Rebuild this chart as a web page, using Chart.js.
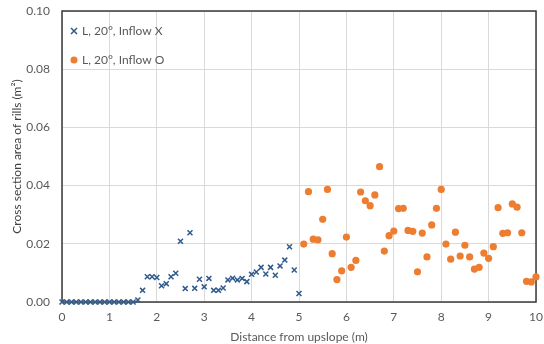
<!DOCTYPE html>
<html>
<head>
<meta charset="utf-8">
<script src="https://cdn.jsdelivr.net/npm/chart.js@4"></script>
<style>
  html, body { margin: 0; padding: 0; background: #fff; }
  #wrap { width: 544px; height: 344px; }
</style>
</head>
<body>
<div id="wrap"><canvas id="rills"></canvas></div>
<script>
const seriesNames = ['L, 20°, Inflow X', 'L, 20°, Inflow O'];

const distX = [0, 0.1, 0.2, 0.3, 0.4, 0.5, 0.6, 0.7, 0.8, 0.9, 1.0, 1.1, 1.2, 1.3, 1.4, 1.5,
  1.6, 1.7, 1.8, 1.9, 2.0, 2.1, 2.2, 2.3, 2.4, 2.5, 2.6, 2.7, 2.8, 2.9, 3.0, 3.1, 3.2, 3.3,
  3.4, 3.5, 3.6, 3.7, 3.8, 3.9, 4.0, 4.1, 4.2, 4.3, 4.4, 4.5, 4.6, 4.7, 4.8, 4.9, 5.0];
const areaX = [0, 0, 0, 0, 0, 0, 0, 0, 0, 0, 0, 0, 0, 0, 0, 0,
  0.0007, 0.0040, 0.0087, 0.0087, 0.0084, 0.0056, 0.0063, 0.0087, 0.0099, 0.0209, 0.0046,
  0.0238, 0.0047, 0.0078, 0.0052, 0.0081, 0.0040, 0.0040, 0.0048, 0.0076, 0.0082, 0.0076,
  0.0081, 0.0070, 0.0095, 0.0103, 0.0119, 0.0096, 0.0119, 0.0092, 0.0124, 0.0144, 0.0190,
  0.0110, 0.0029];

const distO = [5.1, 5.2, 5.3, 5.4, 5.5, 5.6, 5.7, 5.8, 5.9, 6.0, 6.1, 6.2, 6.3, 6.4, 6.5,
  6.6, 6.7, 6.8, 6.9, 7.0, 7.1, 7.2, 7.3, 7.4, 7.5, 7.6, 7.7, 7.8, 7.9, 8.0, 8.1, 8.2, 8.3,
  8.4, 8.5, 8.6, 8.7, 8.8, 8.9, 9.0, 9.1, 9.2, 9.3, 9.4, 9.5, 9.6, 9.7, 9.8, 9.9, 10.0];
const areaO = [0.0199, 0.0379, 0.0216, 0.0214, 0.0284, 0.0387, 0.0166, 0.0077, 0.0107,
  0.0223, 0.0119, 0.0143, 0.0378, 0.0348, 0.0331, 0.0368, 0.0465, 0.0175, 0.0228, 0.0244,
  0.0321, 0.0322, 0.0246, 0.0243, 0.0104, 0.0237, 0.0155, 0.0265, 0.0322, 0.0387, 0.0199,
  0.0147, 0.0240, 0.0158, 0.0195, 0.0155, 0.0113, 0.0119, 0.0168, 0.0150, 0.0190, 0.0324,
  0.0236, 0.0238, 0.0337, 0.0326, 0.0238, 0.0071, 0.0069, 0.0086];

const xRange = [0, 10];
const yRange = [0, 0.10];

const blue = '#2F5A8C';
const orange = '#ED7D31';
const font = 'Lato, "Open Sans", sans-serif';

function toPoints(xs, ys) {
  return xs.map((x, i) => ({ x: x, y: ys[i] }));
}

// box round the plot area, drawn under the points
const plotBox = {
  id: 'plotBox',
  beforeDatasetsDraw(chart) {
    const { ctx, chartArea: a } = chart;
    ctx.save();
    ctx.strokeStyle = '#3a3a3a';
    ctx.lineWidth = 1.5;
    ctx.strokeRect(a.left, a.top, a.right - a.left, a.bottom - a.top);
    ctx.restore();
  }
};

// legend sits inside the plot, top left
const innerLegend = {
  id: 'innerLegend',
  afterDraw(chart) {
    const { ctx, chartArea: a } = chart;
    ctx.save();
    ctx.font = '12px ' + font;
    ctx.textBaseline = 'middle';
    const rows = [a.top + 20, a.top + 49];
    const mx = a.left + 12;
    // cross
    ctx.strokeStyle = blue;
    ctx.lineWidth = 1.5;
    ctx.beginPath();
    ctx.moveTo(mx - 3, rows[0] - 3); ctx.lineTo(mx + 3, rows[0] + 3);
    ctx.moveTo(mx + 3, rows[0] - 3); ctx.lineTo(mx - 3, rows[0] + 3);
    ctx.stroke();
    // dot
    ctx.fillStyle = orange;
    ctx.beginPath();
    ctx.arc(mx, rows[1], 3.5, 0, Math.PI * 2);
    ctx.fill();
    ctx.fillStyle = '#595959';
    ctx.fillText(seriesNames[0], a.left + 20, rows[0]);
    ctx.fillText(seriesNames[1], a.left + 20, rows[1]);
    ctx.restore();
  }
};

new Chart(document.getElementById('rills'), {
  type: 'scatter',
  data: {
    datasets: [{
      label: seriesNames[0],
      data: toPoints(distX, areaX),
      pointStyle: 'crossRot',
      pointRadius: 3.5,
      pointBorderWidth: 1.5,
      borderColor: blue,
      backgroundColor: blue,
      clip: false
    }, {
      label: seriesNames[1],
      data: toPoints(distO, areaO),
      pointStyle: 'circle',
      pointRadius: 3.6,
      pointBorderWidth: 0,
      borderColor: orange,
      backgroundColor: orange,
      clip: false
    }]
  },
  options: {
    responsive: true,
    maintainAspectRatio: false,
    animation: false,
    layout: { padding: { top: 11, right: 8, left: 0, bottom: 0 } },
    plugins: {
      legend: { display: false },
      tooltip: { enabled: false }
    },
    scales: {
      x: {
        type: 'linear',
        min: xRange[0],
        max: xRange[1],
        grid: { color: '#D9D9D9', drawTicks: false },
        border: { display: false },
        ticks: {
          stepSize: 1,
          padding: 8,
          color: '#595959',
          font: { family: font, size: 12 }
        },
        title: {
          display: true,
          text: 'Distance from upslope (m)',
          color: '#595959',
          padding: { top: 2, bottom: 0 },
          font: { family: font, size: 12 }
        },
        afterFit(scale) {
          scale.height = 42;
          scale.paddingLeft = 0;
          scale.paddingRight = 0;
        }
      },
      y: {
        min: yRange[0],
        max: yRange[1],
        grid: { color: '#D9D9D9', drawTicks: false },
        border: { display: false },
        ticks: {
          stepSize: 0.02,
          padding: 12,
          color: '#595959',
          font: { family: font, size: 12 },
          callback: v => v.toFixed(2)
        },
        title: {
          display: true,
          text: 'Cross section area of rills (m²)',
          color: '#404040',
          padding: { top: 10, bottom: 0 },
          font: { family: font, size: 12 }
        },
        afterFit(scale) {
          scale.width = 62;
          scale.paddingTop = 0;
          scale.paddingBottom = 0;
        }
      }
    }
  },
  plugins: [plotBox, innerLegend]
});
</script>
</body>
</html>
